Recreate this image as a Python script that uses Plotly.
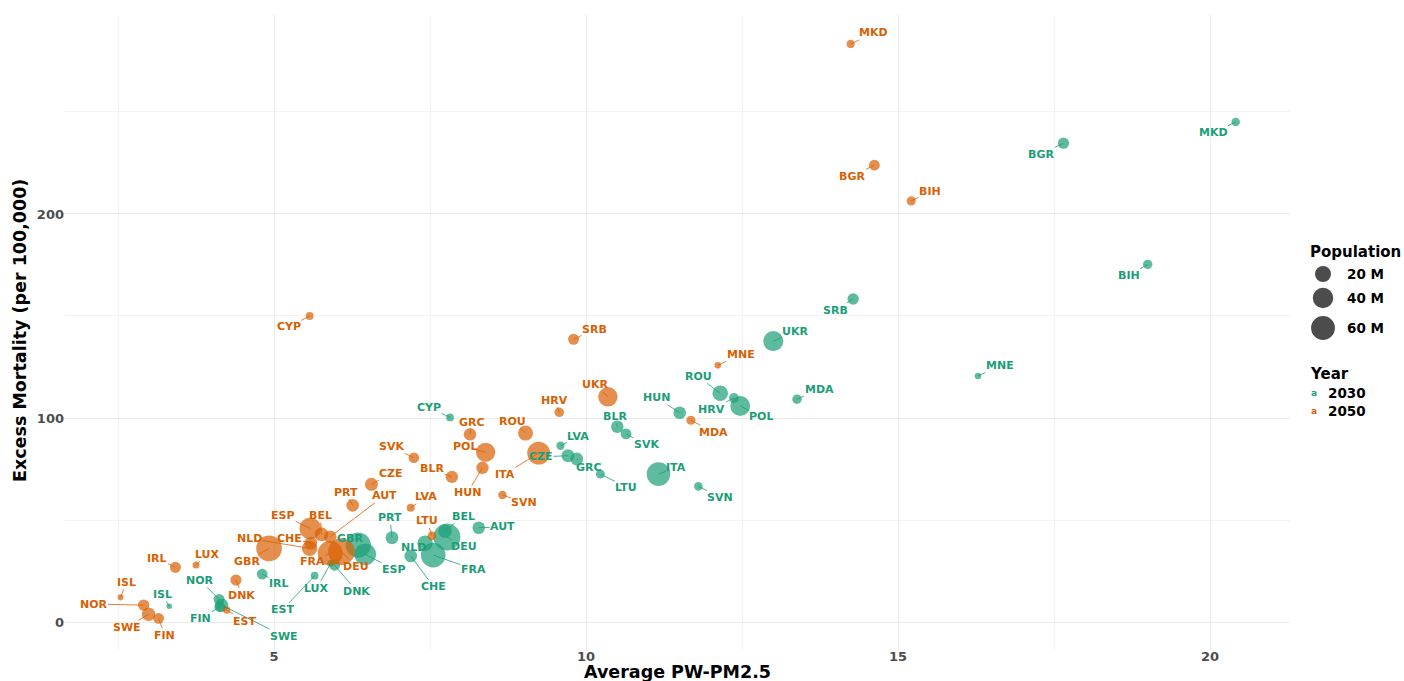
import numpy as np
import plotly.graph_objects as go

# ---------------------------------------------------------------- data
countries = ["AUT", "BEL", "BGR", "BIH", "BLR", "CHE", "CYP", "CZE", "DEU", "DNK",
             "ESP", "EST", "FIN", "FRA", "GBR", "GRC", "HRV", "HUN", "IRL", "ISL",
             "ITA", "LTU", "LUX", "LVA", "MDA", "MKD", "MNE", "NLD", "NOR", "POL",
             "PRT", "ROU", "SRB", "SVK", "SVN", "SWE", "UKR"]

pm_2030 = [8.28, 7.74, 17.65, 19.00, 10.50, 7.19, 7.82, 9.71, 7.77, 5.97,
           6.46, 5.65, 4.13, 7.55, 6.35, 9.85, 12.37, 11.50, 4.81, 3.32,
           11.16, 10.23, 5.91, 9.59, 13.38, 20.41, 16.28, 7.42, 4.12, 12.47,
           6.89, 12.15, 14.28, 10.64, 11.80, 4.16, 13.00]
mort_2030 = [46.2, 44.5, 234.7, 175.3, 95.7, 32.4, 100.3, 81.5, 41.7, 27.9,
             33.2, 22.7, 7.5, 32.8, 37.7, 79.9, 109.8, 102.6, 23.5, 7.8,
             72.5, 72.5, 28.9, 86.4, 109.2, 245.1, 120.6, 38.6, 11.1, 105.9,
             41.3, 112.1, 158.3, 92.2, 66.5, 8.3, 137.7]
pop_2030 = [9.2, 11.9, 6.4, 3.1, 9.1, 9.3, 1.3, 10.6, 82.5, 6.0,
            47.5, 1.3, 5.6, 66.0, 69.5, 10.0, 3.8, 9.4, 5.4, 0.4,
            58.5, 2.6, 0.7, 1.8, 3.2, 2.0, 0.6, 17.9, 5.8, 37.0,
            10.1, 18.4, 6.6, 5.4, 2.1, 10.9, 38.5]

pm_2050 = [5.90, 5.76, 14.62, 15.21, 7.85, 5.59, 5.57, 6.56, 6.08, 4.39,
           5.58, 4.24, 3.15, 5.90, 4.92, 8.14, 9.57, 8.34, 3.42, 2.54,
           9.24, 7.53, 3.75, 7.19, 11.68, 14.24, 12.11, 5.57, 2.91, 8.39,
           6.26, 9.03, 9.80, 7.24, 8.66, 2.99, 10.35]
mort_2050 = [41.8, 43.0, 223.9, 206.4, 71.1, 38.7, 150.0, 67.5, 34.5, 20.6,
             45.9, 5.9, 1.8, 33.7, 36.1, 92.0, 102.8, 75.6, 26.8, 12.1,
             82.8, 42.2, 27.9, 56.0, 98.9, 283.3, 125.8, 36.1, 8.3, 83.2,
             57.2, 92.6, 138.6, 80.5, 62.3, 3.8, 110.4]
pop_2050 = [9.4, 12.3, 5.4, 2.8, 8.6, 10.0, 1.4, 10.3, 79.5, 6.2,
            46.0, 1.2, 5.5, 67.5, 72.5, 9.2, 3.4, 8.8, 5.9, 0.45,
            54.0, 2.3, 0.8, 1.5, 2.8, 1.8, 0.6, 18.0, 6.4, 34.0,
            9.5, 16.5, 5.8, 5.1, 2.0, 11.8, 35.0]

years = ["2030", "2050"]
pop_breaks = [20, 40, 60]
x_ticks = [5, 10, 15, 20]
y_ticks = [0, 100, 200]

# ------------------------------------------------------- label placement
# pixel offsets of each country label from its point (repelled layout)
label_offset_2030 = {
    "MKD": (-22, 11), "BGR": (-22, 11), "BIH": (-19, 11), "SRB": (-18, 11),
    "MNE": (22, -10), "UKR": (22, -10), "MDA": (22, -10), "ROU": (-22, -17),
    "HRV": (-22, 11), "POL": (21, 11), "HUN": (-23, -15), "BLR": (-2, -10),
    "SVK": (20, 11), "LVA": (18, -9), "CZE": (-27, 1), "GRC": (12, 8),
    "LTU": (26, 13), "ITA": (18, -7), "SVN": (22, 11), "CYP": (-21, -10),
    "GBR": (-8, -7), "ESP": (29, 15), "PRT": (-2, -20), "IRL": (17, 9),
    "LUX": (-14, 25), "DNK": (22, 26), "EST": (-32, 34), "BEL": (18, -15),
    "AUT": (24, -1), "NLD": (-12, 4), "DEU": (17, 10), "FRA": (40, 14),
    "CHE": (23, 31), "ISL": (-7, -12), "NOR": (-19, -19), "FIN": (-19, 12),
    "SWE": (62, 31),
}
label_offset_2050 = {
    "MKD": (23, -11), "BGR": (-22, 11), "BIH": (19, -9), "CYP": (-21, 11),
    "SRB": (21, -10), "MNE": (23, -11), "UKR": (-13, -12), "MDA": (23, 12),
    "HRV": (-5, -12), "GRC": (2, -12), "ROU": (-13, -12), "POL": (-21, -6),
    "ITA": (-34, 21), "HUN": (-15, 25), "BLR": (-20, -8), "SVK": (-22, -11),
    "SVN": (22, 8), "LVA": (15, -11), "CZE": (20, -11), "PRT": (-7, -13),
    "AUT": (54, -41), "ESP": (-27, -13), "BEL": (-1, -19), "NLD": (-60, -10),
    "CHE": (-21, -5), "GBR": (-22, 13), "FRA": (-18, 8), "DEU": (15, 15),
    "DNK": (6, 15), "LTU": (-5, -15), "IRL": (-18, -9), "LUX": (11, -11),
    "ISL": (6, -15), "NOR": (-50, -1), "SWE": (-22, 13), "FIN": (6, 17),
    "EST": (18, 11),
}

# ---------------------------------------------------------------- style
GREEN = "#1B9E77"
ORANGE = "#D95F02"
FONT = "DejaVu Sans"
W, H = 1404, 681
M_L, M_R, M_T, M_B = 65, 114, 15, 31
PLOT_W, PLOT_H = W - M_L - M_R, H - M_T - M_B

P_MIN = min(pop_2030 + pop_2050)
P_MAX = max(pop_2030 + pop_2050)


def diameter(pop):
    """Area-style size scale: population -> marker diameter in px."""
    p = np.asarray(pop, dtype=float)
    return 5.5 + 21.5 * np.sqrt(np.clip((p - P_MIN) / (P_MAX - P_MIN), 0, None))


def paper_x(px):
    return (px - M_L) / PLOT_W


def paper_y(py):
    return (H - M_B - py) / PLOT_H


fig = go.Figure()

series = [
    (years[0], pm_2030, mort_2030, pop_2030, GREEN, label_offset_2030),
    (years[1], pm_2050, mort_2050, pop_2050, ORANGE, label_offset_2050),
]

for name, xs, ys, pops, col, offsets in series:
    fig.add_trace(go.Scatter(
        x=xs, y=ys, mode="markers", name=name, text=countries,
        marker=dict(size=diameter(pops), sizemode="diameter", color=col,
                    opacity=0.7, line=dict(width=0)),
        showlegend=False, cliponaxis=False,
    ))

for name, xs, ys, pops, col, offsets in series:
    for c, x, y in zip(countries, xs, ys):
        dx, dy = offsets[c]
        fig.add_annotation(
            x=x, y=y, xref="x", yref="y", ax=dx, ay=dy, text=c,
            showarrow=True, arrowhead=0, arrowwidth=0.8, arrowcolor=col,
            standoff=0, borderpad=0,
            font=dict(family=FONT, size=11, color=col, weight="bold"),
        )

# axis titles
fig.add_annotation(x=0.5, y=paper_y(672), xref="paper", yref="paper",
                   text="Average PW-PM2.5", showarrow=False,
                   xanchor="center", yanchor="middle",
                   font=dict(family=FONT, size=17.5, color="black", weight="bold"))
fig.add_annotation(x=paper_x(20), y=paper_y(331), xref="paper", yref="paper",
                   text="Excess Mortality (per 100,000)", showarrow=False,
                   textangle=-90, xanchor="center", yanchor="middle",
                   font=dict(family=FONT, size=17.5, color="black", weight="bold"))

# ---------------------------------------------------------------- legends
fig.add_annotation(x=paper_x(1308), y=paper_y(252), xref="paper", yref="paper",
                   text="Population", showarrow=False, xanchor="left", yanchor="middle",
                   font=dict(family=FONT, size=15, color="black", weight="bold"))
pop_key_rows = [274, 298, 328]
for b, row in zip(pop_breaks, pop_key_rows):
    r = float(diameter([b])[0]) / 2
    fig.add_shape(type="circle", xref="paper", yref="paper",
                  xsizemode="pixel", ysizemode="pixel",
                  xanchor=paper_x(1323), yanchor=paper_y(row),
                  x0=-r, x1=r, y0=-r, y1=r,
                  fillcolor="rgba(0,0,0,0.7)", line=dict(width=0))
    fig.add_annotation(x=paper_x(1345), y=paper_y(row), xref="paper", yref="paper",
                       text=f"{b} M", showarrow=False, xanchor="left", yanchor="middle",
                       font=dict(family=FONT, size=13.5, color="black", weight="bold"))

fig.add_annotation(x=paper_x(1308), y=paper_y(374), xref="paper", yref="paper",
                   text="Year", showarrow=False, xanchor="left", yanchor="middle",
                   font=dict(family=FONT, size=15, color="black", weight="bold"))
for (name, *_rest), row in zip(series, [393, 411]):
    col = _rest[3]
    fig.add_annotation(x=paper_x(1314), y=paper_y(row), xref="paper", yref="paper",
                       text="a", showarrow=False, xanchor="center", yanchor="middle",
                       font=dict(family=FONT, size=9, color=col, weight="bold"))
    fig.add_annotation(x=paper_x(1326), y=paper_y(row), xref="paper", yref="paper",
                       text=name, showarrow=False, xanchor="left", yanchor="middle",
                       font=dict(family=FONT, size=13.5, color="black", weight="bold"))

# ---------------------------------------------------------------- axes
tick_font = dict(family=FONT, size=13, color="#4D4D4D", weight="bold")
fig.update_xaxes(range=[1.65, 21.28], tickvals=x_ticks, ticktext=[str(v) for v in x_ticks],
                 showgrid=True, gridcolor="#EBEBEB", gridwidth=1,
                 minor=dict(tick0=0, dtick=2.5, showgrid=True, gridcolor="#F3F3F3", gridwidth=1),
                 zeroline=False, showline=False, ticks="", tickfont=tick_font,
                 ticklabelstandoff=-3, automargin=False)
fig.update_yaxes(range=[-13.7, 297.5], tickvals=y_ticks, ticktext=[str(v) for v in y_ticks],
                 showgrid=True, gridcolor="#EBEBEB", gridwidth=1,
                 minor=dict(tick0=0, dtick=50, showgrid=True, gridcolor="#F3F3F3", gridwidth=1),
                 zeroline=False, showline=False, ticks="", tickfont=tick_font,
                 automargin=False)

fig.update_layout(
    width=W, height=H,
    margin=dict(l=M_L, r=M_R, t=M_T, b=M_B, pad=0),
    paper_bgcolor="white", plot_bgcolor="white",
    showlegend=False,
    font=dict(family=FONT),
)

fig.write_html("out.html")
